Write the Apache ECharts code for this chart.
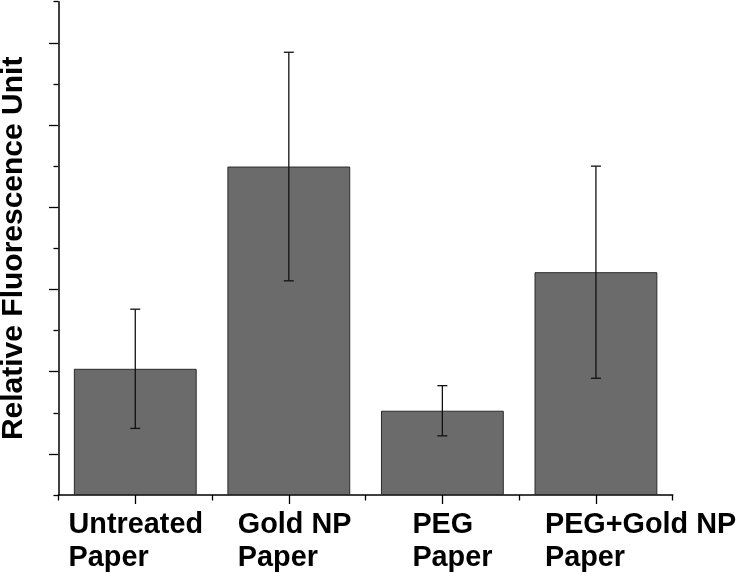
<!DOCTYPE html>
<html>
<head>
<meta charset="utf-8">
<script src="https://cdn.jsdelivr.net/npm/echarts@6/dist/echarts.min.js"></script>
<style>
html,body{margin:0;padding:0;background:#fff;}
#chart{width:740px;height:578px;}
</style>
</head>
<body>
<div id="chart"></div>
<script>
// ---- data ----
const categories = ['Untreated\nPaper', 'Gold NP\nPaper', 'PEG\nPaper', 'PEG+Gold NP\nPaper'];
const means = [3.07, 7.99, 2.05, 5.42];
const errors = [1.45, 2.78, 0.61, 2.58];
const yMajorTicks = [1, 3, 5, 7, 9, 11];
const yMinorTicks = [0, 2, 4, 6, 8, 10, 12];
const yTitle = 'Relative Fluorescence Unit';

// ---- layout (label block widths, px) ----
const labelBlockWidths = [133.4, 102, 60, 102];
const FONT = '"Liberation Sans", Arial, Helvetica, sans-serif';

const rich = {};
labelBlockWidths.forEach((w, i) => {
  rich['w' + i] = { width: w, align: 'left', fontSize: 28.8, fontWeight: 'bold',
    fontFamily: FONT, color: '#000', lineHeight: 33.3 };
});

const errData = categories.map((c, i) => [i, means[i] - errors[i], means[i] + errors[i]]);

const chart = echarts.init(document.getElementById('chart'), null, { renderer: 'canvas' });
chart.setOption({
  animation: false,
  backgroundColor: '#fff',
  grid: { left: 58.5, right: 67.3, top: 1.7, bottom: 83, containLabel: false, outerBoundsMode: 'none' },
  xAxis: [{
    type: 'category', data: categories, position: 'bottom',
    axisLine: { show: true, lineStyle: { color: '#000', width: 1.5 } },
    axisTick: { show: true, length: 5.5, lineStyle: { color: '#000', width: 1.3 } },
    axisLabel: {
      interval: 0, margin: 13, align: 'center', hideOverlap: false,
      formatter: (v, i) => v.split('\n').map(l => '{w' + i + '|' + l + '}').join('\n'),
      rich: rich
    }
  }, {
    type: 'category', data: categories, position: 'bottom',
    axisLine: { show: false },
    axisTick: { show: true, alignWithLabel: true, length: 9, lineStyle: { color: '#000', width: 1.3 } },
    axisLabel: { show: false }
  }],
  yAxis: [{
    type: 'value', min: 0, max: 12, interval: 1, position: 'left',
    name: yTitle, nameLocation: 'middle', nameGap: 30,
    nameTextStyle: { fontSize: 30, fontWeight: 'bold', fontFamily: FONT, color: '#000' },
    axisLine: { show: true, lineStyle: { color: '#000', width: 1.5 } },
    axisTick: { show: true, length: 9.5, customValues: yMajorTicks, lineStyle: { color: '#000', width: 1.3 } },
    axisLabel: { show: false },
    splitLine: { show: false }
  }, {
    type: 'value', min: 0, max: 12, interval: 1, position: 'left',
    axisLine: { show: false },
    axisTick: { show: true, length: 5, customValues: yMinorTicks, lineStyle: { color: '#000', width: 1.3 } },
    axisLabel: { show: false },
    splitLine: { show: false }
  }],
  series: [{
    type: 'bar', data: means, xAxisIndex: 0, yAxisIndex: 0,
    barCategoryGap: '20%',
    itemStyle: { color: '#6b6b6b', borderColor: '#2a2a2a', borderWidth: 1 },
    z: 2
  }, {
    type: 'custom', data: errData, xAxisIndex: 0, yAxisIndex: 0,
    encode: { x: 0, y: [1, 2] },
    z: 5,
    renderItem: function (params, api) {
      const x = api.value(0);
      const lo = api.coord([x, api.value(1)]);
      const hi = api.coord([x, api.value(2)]);
      const hw = 5;
      const st = { stroke: '#111', lineWidth: 1.3 };
      return {
        type: 'group',
        children: [
          { type: 'line', shape: { x1: lo[0], y1: lo[1], x2: hi[0], y2: hi[1] }, style: st },
          { type: 'line', shape: { x1: hi[0] - hw, y1: hi[1], x2: hi[0] + hw, y2: hi[1] }, style: st },
          { type: 'line', shape: { x1: lo[0] - hw, y1: lo[1], x2: lo[0] + hw, y2: lo[1] }, style: st }
        ]
      };
    }
  }]
});
</script>
</body>
</html>
